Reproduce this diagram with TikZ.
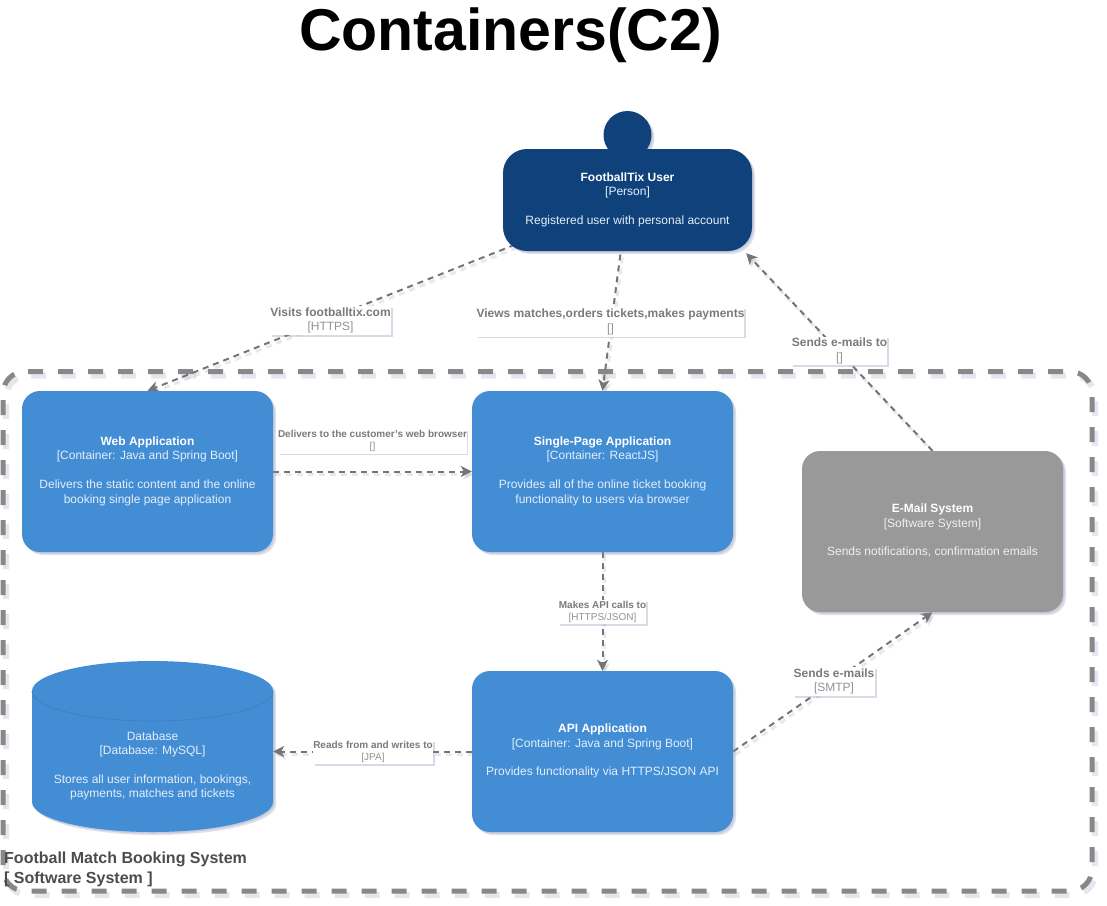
\documentclass[tikz,border=0pt]{standalone}
\usepackage{fontspec}
\setmainfont{Liberation Sans}
\usetikzlibrary{arrows.meta,shadows,calc}
\pgfdeclarelayer{bottomlayer}
\pgfdeclarelayer{connlayer}
\pgfsetlayers{bottomlayer,connlayer,main}
\definecolor{shadowcol}{HTML}{7F8AAE}
\definecolor{personblue}{HTML}{0F427B}
\definecolor{containerblue}{HTML}{438DD5}
\definecolor{extgray}{HTML}{999999}
\definecolor{reltext}{HTML}{7A7A7A}
\definecolor{relsub}{HTML}{939393}
\definecolor{relline}{HTML}{757575}
\definecolor{bndline}{HTML}{888888}
\definecolor{softwhite}{HTML}{E4EEF9}
\definecolor{softgray}{HTML}{F0F0F0}
\newcommand{\boxtxt}[1]{\begin{tabular}{@{}c@{}}#1\end{tabular}}
\tikzset{
  softshadow/.style={
    drop shadow={shadow xshift=1.5pt,shadow yshift=-1.5pt,opacity=.25,fill=shadowcol},
    drop shadow={shadow xshift=3pt,shadow yshift=-3pt,opacity=.25,fill=shadowcol}},
  linkshadow/.style={preaction={draw=shadowcol,opacity=.18,line width=3pt,dash pattern=on 6pt off 5pt,
    transform canvas={shift={(2pt,-3pt)}}}},
  cardbox/.style={rectangle,rounded corners=18pt,inner sep=0pt,softshadow,
    font=\fontsize{12}{14.4}\selectfont},
  containerbox/.style={cardbox,fill=containerblue,text=softwhite,minimum width=261pt,minimum height=161pt},
  rel/.style={draw=relline,line width=2pt,dash pattern=on 6pt off 5pt,linkshadow,
    -{Stealth[length=11pt,width=11pt,inset=3pt,fill=relline]}},
  rellabel/.style={rectangle,fill=white,inner sep=0pt,text=reltext,
    drop shadow={shadow xshift=1.5pt,shadow yshift=-1.5pt,opacity=.3,fill=shadowcol},
    font=\fontsize{12}{14.4}\selectfont},
  smalllabel/.style={rellabel,font=\fontsize{10}{12}\selectfont},
}
\newcommand{\titletxt}[1]{\textcolor{white}{\textbf{#1}}}
\newcommand{\reltxt}[2]{\textbf{#1}\\\textcolor{relsub}{#2}}
\begin{document}
\begin{tikzpicture}[x=1pt,y=-1pt]
\useasboundingbox (0,0) rectangle (1107,905);
\begin{pgfonlayer}{bottomlayer}
\fill[white] (0,0) rectangle (1107,905);
\end{pgfonlayer}

\node[anchor=base,font=\fontsize{59}{71}\selectfont\bfseries,text=black] (title) at (510.5,50) {Containers(C2)};

% boundary
\begin{pgfonlayer}{bottomlayer}
\draw[rounded corners=22pt,draw=bndline,line width=5pt,dash pattern=on 15pt off 15pt,
  preaction={draw=shadowcol,opacity=.2,line width=6pt,dash pattern=on 15pt off 15pt,
    transform canvas={shift={(3pt,-4pt)}}}]
  (28,371.5) -- (1092,371.5) -- (1092,891) -- (3,891) -- (3,371.5) -- (28,371.5);
\end{pgfonlayer}

% person
\node[circle,fill=personblue,minimum size=48pt,inner sep=0pt,softshadow] (head) at (627.5,135) {};
\node[cardbox,rounded corners=24pt,fill=personblue,text=softwhite,minimum width=249pt,minimum height=102pt] (user) at (627.5,200)
  {\boxtxt{\titletxt{FootballTix User}\\{[}Person{]}\\ \\Registered user with personal account}};

% containers
\node[containerbox,minimum width=251pt] (web) at (147.5,471.5)
  {\boxtxt{\titletxt{Web Application}\\{[}Container: Java and Spring Boot{]}\\ \\Delivers the static content and the online\\booking single page application}};
\node[containerbox] (spa) at (602.5,471.5)
  {\boxtxt{\titletxt{Single-Page Application}\\{[}Container: ReactJS{]}\\ \\Provides all of the online ticket booking\\functionality to users via browser}};
\node[containerbox] (api) at (602.5,751.5)
  {\boxtxt{\titletxt{API Application}\\{[}Container: Java and Spring Boot{]}\\ \\Provides functionality via HTTPS/JSON API}};
\node[cardbox,fill=extgray,text=softgray,minimum width=261pt,minimum height=161pt] (email) at (932.5,531.5)
  {\boxtxt{\titletxt{E-Mail System}\\{[}Software System{]}\\ \\Sends notifications, confirmation emails}};

% database
\path[fill=containerblue,
  drop shadow={shadow xshift=1.5pt,shadow yshift=-1.5pt,opacity=.25,fill=shadowcol},
  drop shadow={shadow xshift=3pt,shadow yshift=-3pt,opacity=.25,fill=shadowcol}]
  (32,691) arc[start angle=180,end angle=0,x radius=120.5pt,y radius=30pt]
  -- (273,802) arc[start angle=0,end angle=-180,x radius=120.5pt,y radius=30pt] -- cycle;
\draw[draw=black!10!containerblue,line width=.7pt]
  (32,691) arc[start angle=180,end angle=360,x radius=120.5pt,y radius=30pt];
\node[rectangle,inner sep=0pt,minimum width=241pt,minimum height=131pt,text=softwhite,
  font=\fontsize{12}{14.4}\selectfont] (db) at (152.5,766)
  {\boxtxt{Database\\{[}Database: MySQL{]}\\ \\Stores all user information, bookings,\\payments, matches and tickets}};

% connectors
\coordinate (userse) at ($(user.south east)+(-6pt,-2pt)$);
\begin{pgfonlayer}{connlayer}
\draw[rel] (user.center) -- (web.north);
\draw[rel] (user.center) -- (spa.north);
\draw[rel] (email.north) -- (userse);
\draw[rel] (web.east) -- (spa.west);
\draw[rel] (spa.south) -- (api.north);
\draw[rel] (api.west) -- (api.west -| db.east);
\draw[rel] (api.east) -- (email.south);
\end{pgfonlayer}

% connector labels
\node[rellabel,minimum width=121pt,minimum height=29pt] (lvisits) at (330.5,320.5)
  {\boxtxt{\reltxt{Visits footballtix.com}{[HTTPS]}}};
\node[rellabel,minimum width=267pt,minimum height=29pt] (lviews) at (610.5,322)
  {\boxtxt{\reltxt{Views matches,orders tickets,makes payments}{[]}}};
\node[rellabel,minimum width=95pt,minimum height=28pt] (lsendsto) at (839.5,351)
  {\boxtxt{\reltxt{Sends e-mails to}{[]}}};
\node[smalllabel,minimum width=187pt,minimum height=23pt] (ldelivers) at (372.5,441.5)
  {\boxtxt{\reltxt{Delivers to the customer's web browser}{[]}}};
\node[smalllabel,minimum width=87pt,minimum height=24pt] (lapi) at (602.5,612)
  {\boxtxt{\reltxt{Makes API calls to}{[HTTPS/JSON]}}};
\node[smalllabel,minimum width=120pt,minimum height=24pt] (ljpa) at (373,752)
  {\boxtxt{\reltxt{Reads from and writes to}{[JPA]}}};
\node[rellabel,minimum width=82pt,minimum height=29pt] (lsmtp) at (834,681.5)
  {\boxtxt{\reltxt{Sends e-mails}{[SMTP]}}};

% boundary label
\node[anchor=west,align=left,inner sep=0pt,text=black!70,
  font=\fontsize{16}{20}\selectfont\bfseries] (bndlabel) at (4,869)
  {Football Match Booking System\\{[} Software System {]}};
\end{tikzpicture}
\end{document}
